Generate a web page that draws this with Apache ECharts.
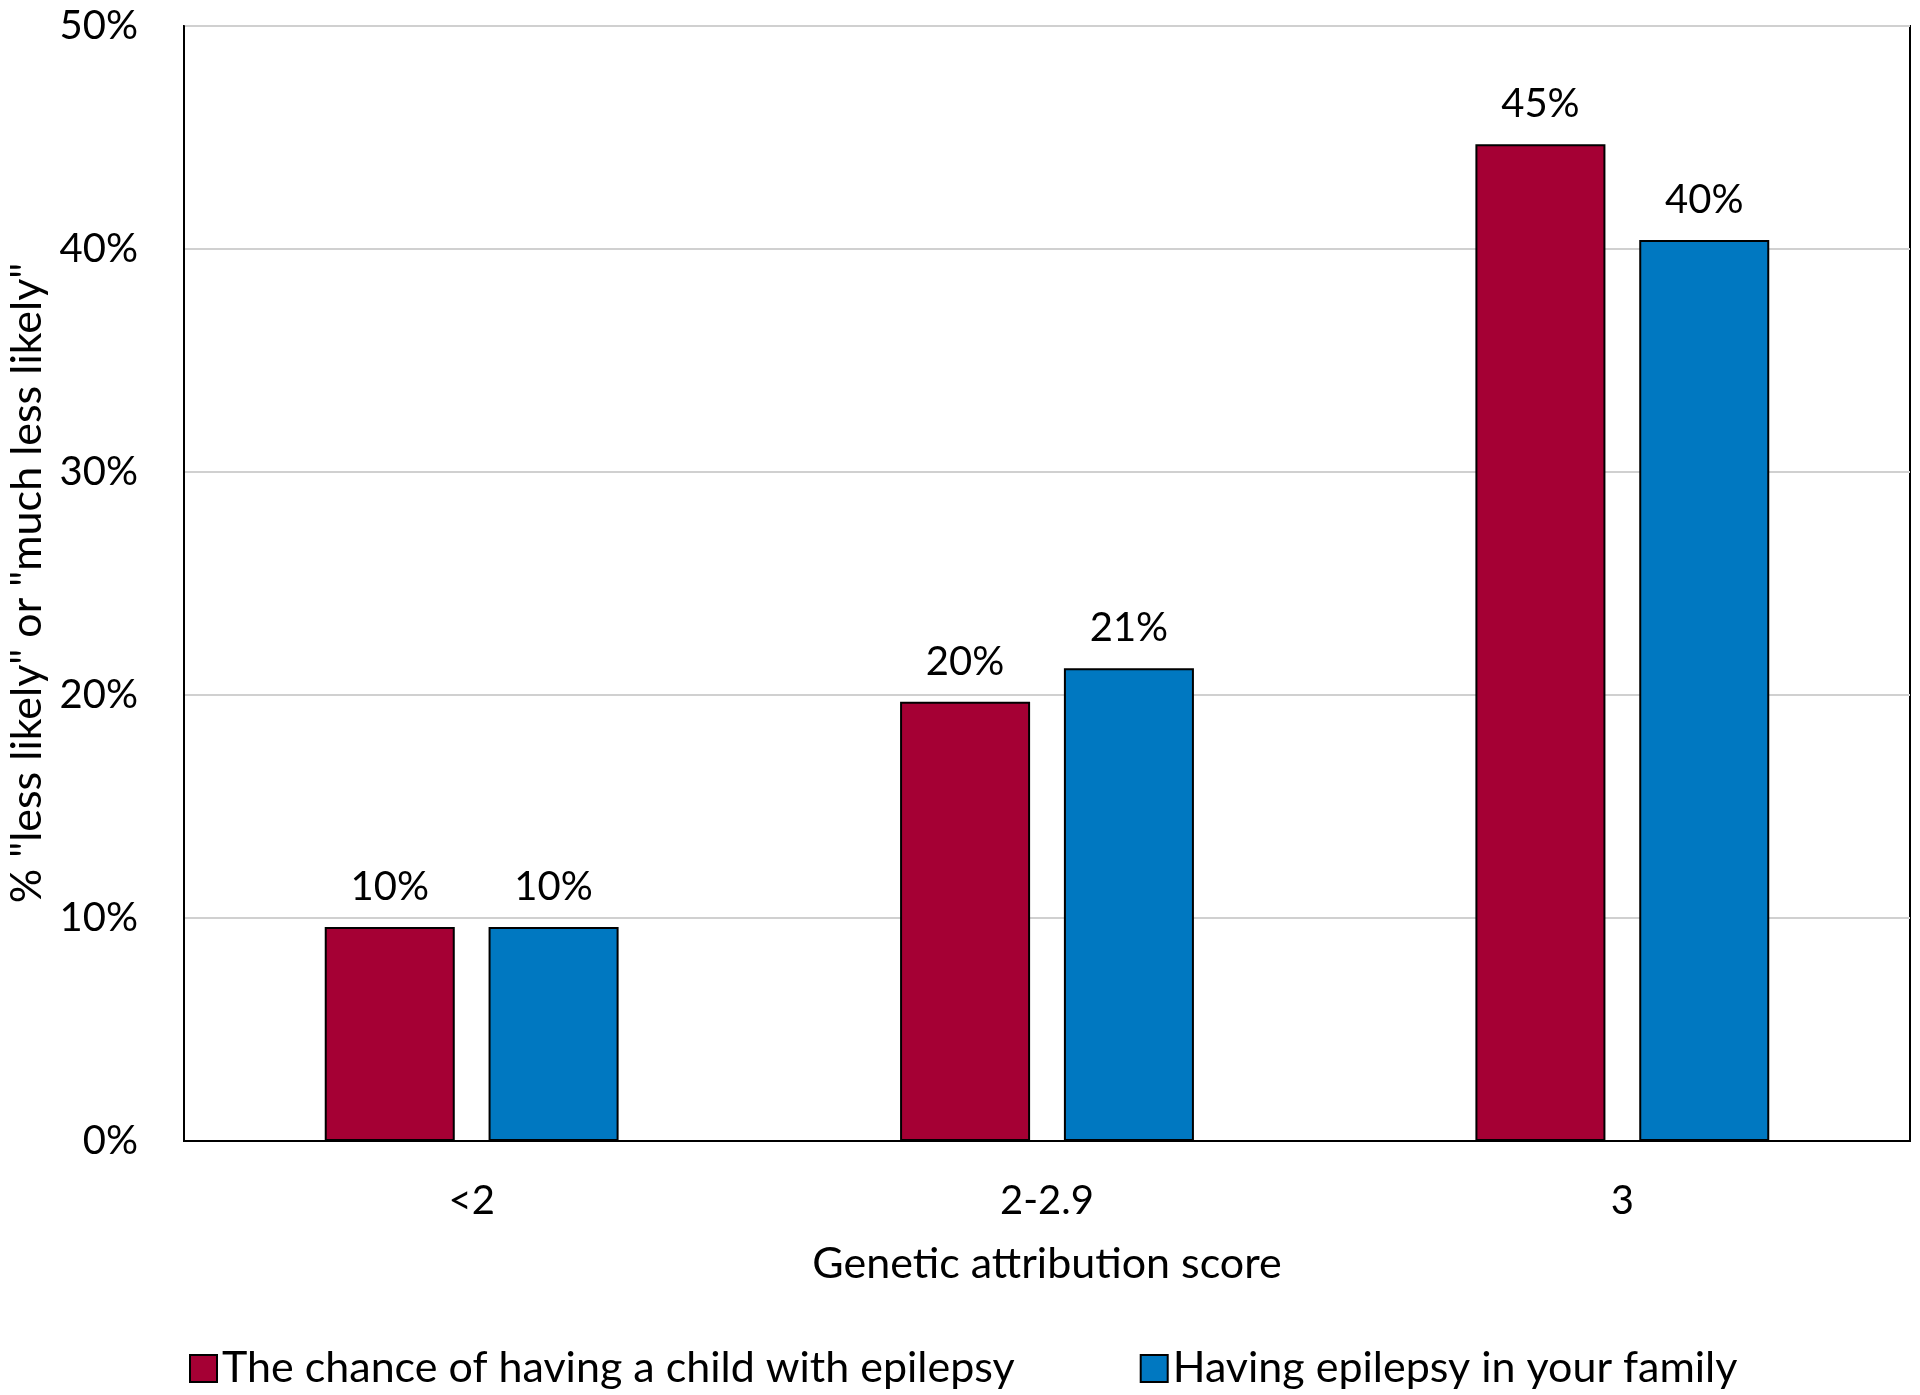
<!DOCTYPE html>
<html>
<head>
<meta charset="utf-8">
<script src="https://cdn.jsdelivr.net/npm/echarts@6/dist/echarts.min.js"></script>
<style>
html,body{margin:0;padding:0;background:#fff;}
#chart{width:1920px;height:1395px;}
</style>
</head>
<body>
<div id="chart"></div>
<script>
const categories = ['<2', '2-2.9', '3'];
const seriesNames = ['The chance of having a child with epilepsy', 'Having epilepsy in your family'];
const childValues = [9.6, 19.7, 44.7];
const familyValues = [9.6, 21.2, 40.4];
const yTicks = [0, 10, 20, 30, 40, 50];
const colors = ['#A50034', '#0078C1'];

const FONT = 'Lato';
const chart = echarts.init(document.getElementById('chart'));
const labelCfg = {
  show: true, position: 'top', distance: 20,
  fontFamily: FONT, fontSize: 40, color: '#000',
  formatter: p => Math.round(p.value) + '%'
};
chart.setOption({
  animation: false,
  grid: { left: 184, right: 10, top: 26, bottom: 254, show: true, borderColor: '#000', borderWidth: 2 },
  legend: {
    data: seriesNames, left: 184, top: 1342, icon: 'rect',
    itemWidth: 27, itemHeight: 27, itemGap: 125,
    textStyle: { fontFamily: FONT, fontSize: 43, color: '#000' }
  },
  xAxis: {
    type: 'category', data: categories,
    axisLine: { lineStyle: { color: '#000', width: 2 } },
    axisTick: { show: false },
    axisLabel: { fontFamily: FONT, fontSize: 40, color: '#000', margin: 40 },
    name: 'Genetic attribution score', nameLocation: 'middle', nameGap: 102,
    nameTextStyle: { fontFamily: FONT, fontSize: 43, color: '#000' }
  },
  yAxis: {
    type: 'value', min: yTicks[0], max: yTicks[yTicks.length - 1], interval: 10,
    axisLine: { show: true, lineStyle: { color: '#000', width: 2 } },
    axisTick: { show: false },
    splitLine: { lineStyle: { color: '#D0D0D0', width: 2 } },
    axisLabel: { fontFamily: FONT, fontSize: 40, color: '#000', margin: 46, formatter: v => v + '%' }
  },
  graphic: [{
    type: 'text', x: 27, y: 583, rotation: Math.PI / 2,
    style: {
      text: '% "less likely" or "much less likely"',
      fontFamily: FONT, fontSize: 43, fill: '#000',
      textAlign: 'center', textVerticalAlign: 'middle'
    }
  }],
  series: [
    { name: seriesNames[0], type: 'bar', data: childValues, barWidth: '22.6%', barGap: '26%',
      itemStyle: { color: colors[0], borderColor: '#000', borderWidth: 2 }, label: labelCfg },
    { name: seriesNames[1], type: 'bar', data: familyValues, barWidth: '22.6%', barGap: '26%',
      itemStyle: { color: colors[1], borderColor: '#000', borderWidth: 2 }, label: labelCfg }
  ]
});
</script>
</body>
</html>
